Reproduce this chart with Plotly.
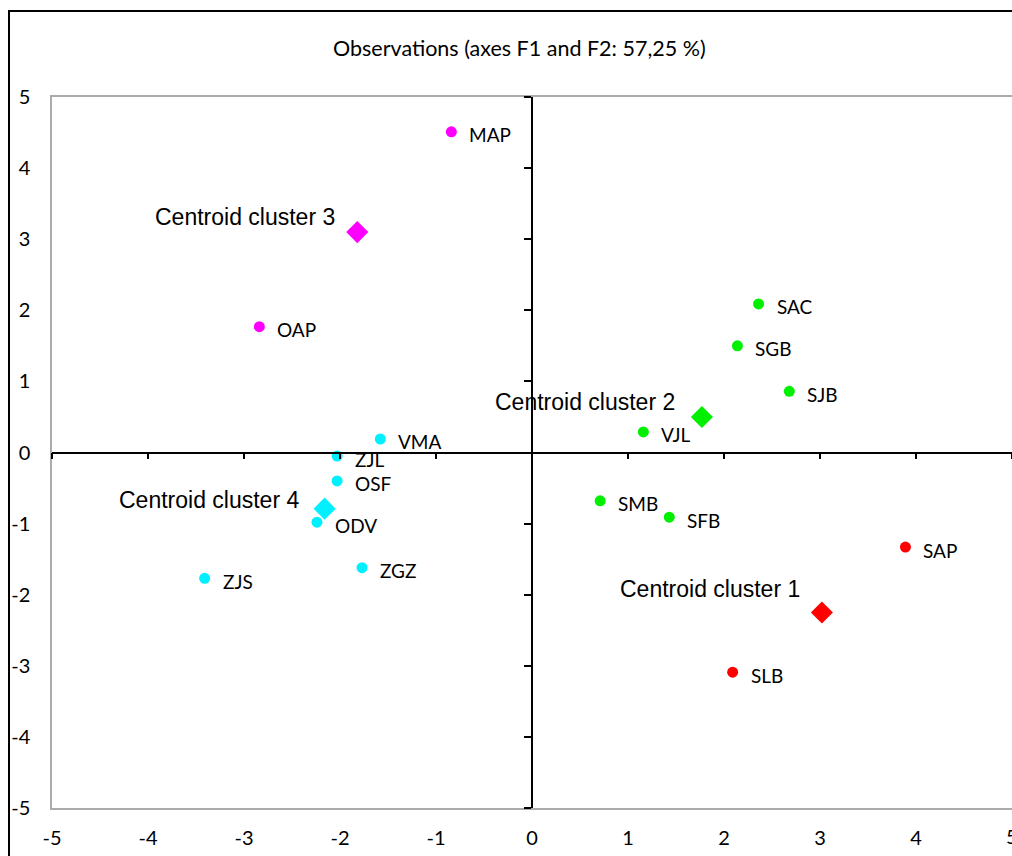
import plotly.graph_objects as go

# ---- data ----
obs_names = ["MAP", "OAP", "SAC", "SGB", "SJB", "VJL", "SMB", "SFB",
             "SAP", "SLB", "VMA", "ZJL", "OSF", "ODV", "ZGZ", "ZJS"]
obs_f1 = [-0.84, -2.84, 2.36, 2.14, 2.68, 1.16, 0.71, 1.43,
          3.89, 2.09, -1.58, -2.03, -2.03, -2.24, -1.77, -3.41]
obs_f2 = [4.51, 1.77, 2.09, 1.50, 0.86, 0.29, -0.68, -0.91,
          -1.33, -3.09, 0.19, -0.05, -0.40, -0.98, -1.62, -1.77]
obs_cluster = [3, 3, 2, 2, 2, 2, 2, 2, 1, 1, 4, 4, 4, 4, 4, 4]

centroid_names = ["Centroid cluster 1", "Centroid cluster 2",
                  "Centroid cluster 3", "Centroid cluster 4"]
centroid_cluster = [1, 2, 3, 4]
centroid_f1 = [3.02, 1.77, -1.82, -2.16]
centroid_f2 = [-2.25, 0.50, 3.10, -0.79]

tick_vals = [-5, -4, -3, -2, -1, 0, 1, 2, 3, 4, 5]
tick_text = ["-5", "-4", "-3", "-2", "-1", "0", "1", "2", "3", "4", "5"]
title_text = "Observations (axes F1 and F2: 57,25 %)"

# ---- style ----
cluster_colors = {1: "#FF0000", 2: "#00F000", 3: "#FF00FF", 4: "#00F0FF"}
centroid_label_shift = [(-20, 23), (-25, 15), (-20, 15), (-24, 9)]
label_font = "Lato, Liberation Sans, sans-serif"
centroid_font = "Liberation Sans, Arial, sans-serif"

fig = go.Figure()

for c in [1, 2, 3, 4]:
    xs = [x for x, k in zip(obs_f1, obs_cluster) if k == c]
    ys = [y for y, k in zip(obs_f2, obs_cluster) if k == c]
    fig.add_trace(go.Scatter(x=xs, y=ys, mode="markers",
                             marker=dict(color=cluster_colors[c], size=11, symbol="circle",
                                         line=dict(width=0)),
                             showlegend=False, hoverinfo="skip"))

fig.add_trace(go.Scatter(x=centroid_f1, y=centroid_f2, mode="markers",
                         marker=dict(color=[cluster_colors[c] for c in centroid_cluster],
                                     size=17, symbol="diamond", line=dict(width=0)),
                         showlegend=False, hoverinfo="skip"))

# dummy trace for the zero-crossing axes
fig.add_trace(go.Scatter(x=[None], y=[None], xaxis="x2", yaxis="y2",
                         showlegend=False, hoverinfo="skip"))

W = 1012
PW = W - 52

annotations = []
for n, x, y in zip(obs_names, obs_f1, obs_f2):
    annotations.append(dict(x=x, y=y, xref="x", yref="y", text=n, showarrow=False,
                            xanchor="left", yanchor="middle", xshift=16, yshift=-3,
                            font=dict(family=label_font, size=19, color="#000000")))
for n, x, y, (dx, dy) in zip(centroid_names, centroid_f1, centroid_f2, centroid_label_shift):
    annotations.append(dict(x=x, y=y, xref="x", yref="y", text=n, showarrow=False,
                            xanchor="right", yanchor="middle", xshift=dx, yshift=dy,
                            font=dict(family=centroid_font, size=23, color="#000000")))
annotations.append(dict(x=(519 - 52) / PW, y=1 + (97 - 48) / 711, xref="paper", yref="paper",
                        text=title_text, showarrow=False, xanchor="center", yanchor="middle",
                        font=dict(family=label_font, size=21.5, color="#000000")))
# last x tick label, which sits on the page edge and is clipped there
annotations.append(dict(x=tick_vals[-1], y=0, xref="x", yref="paper", text=tick_text[-1],
                        showarrow=False, xanchor="center", yanchor="middle", yshift=-28,
                        font=dict(family=label_font, size=20, color="#000000")))

fig.update_layout(
    width=W, height=856,
    margin=dict(l=52, r=0, t=97, b=48),
    paper_bgcolor="white", plot_bgcolor="white",
    annotations=annotations,
    xaxis=dict(range=[-5, 5], tickvals=tick_vals, ticktext=tick_text, showgrid=False,
               zeroline=False, showline=True, mirror=True, linecolor="#ababab", linewidth=1.5,
               ticks="", ticklabelstandoff=11,
               tickfont=dict(family=label_font, size=20, color="#000000")),
    yaxis=dict(range=[-5, 5], tickvals=tick_vals, ticktext=tick_text, showgrid=False,
               zeroline=False, showline=True, mirror=False, linecolor="#ababab", linewidth=1.5,
               ticks="", ticklabelstandoff=16,
               tickfont=dict(family=label_font, size=20, color="#000000")),
    xaxis2=dict(range=[-5, 5], tickvals=tick_vals, overlaying="x", anchor="free", position=0.5,
                showgrid=False, zeroline=False, showline=True, linecolor="#000000", linewidth=1.5,
                ticks="outside", ticklen=6, tickwidth=1.5, tickcolor="#000000",
                showticklabels=False),
    yaxis2=dict(range=[-5, 5], tickvals=tick_vals, overlaying="y", anchor="free", position=0.5,
                side="left",
                showgrid=False, zeroline=False, showline=True, linecolor="#000000", linewidth=1.5,
                ticks="outside", ticklen=7, tickwidth=1.5, tickcolor="#000000",
                showticklabels=False),
    shapes=[dict(type="rect", xref="paper", yref="paper",
                 x0=(9 - 52) / PW, x1=1.2, y0=-0.3, y1=1 + (97 - 11) / 711,
                 line=dict(color="#000000", width=2), fillcolor="rgba(0,0,0,0)", layer="above")],
)

fig.write_html("out.html", config={"displayModeBar": False},
               post_script="document.body.style.margin='0';document.body.style.overflow='hidden';")
